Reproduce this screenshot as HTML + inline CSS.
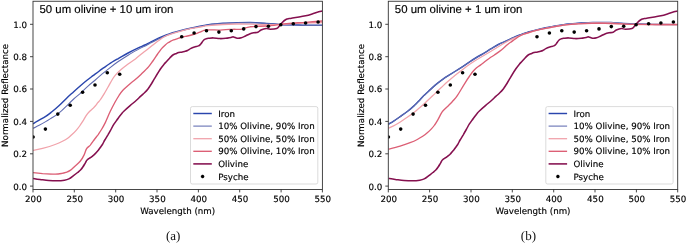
<!DOCTYPE html>
<html lang="en"><head><meta charset="utf-8"><title>Normalized reflectance: olivine and iron mixtures vs Psyche</title>
<style>
html,body{margin:0;padding:0;background:#fff}
svg{display:block}
text{text-rendering:geometricPrecision}
.dv{font-family:"DejaVu Sans","Liberation Sans",sans-serif}
.ls{font-family:"Liberation Sans",sans-serif}
.se{font-family:"Liberation Serif",serif}
</style></head><body>
<svg width="686" height="243" viewBox="0 0 686 243">
<rect width="686" height="243" fill="#fff"/>
<clipPath id="ca"><rect x="33.0" y="1.25" width="289.4" height="188.2"/></clipPath>
<g clip-path="url(#ca)" fill="none" stroke-linecap="butt" stroke-linejoin="round">
<path d="M33.1 123.8C34.0 123.2 36.6 121.6 38.7 120.4C40.8 119.2 43.5 117.8 45.7 116.4C47.9 115.0 49.6 113.6 51.9 111.8C54.1 110.0 56.8 107.7 59.2 105.5C61.6 103.3 64.0 100.7 66.4 98.4C68.8 96.1 71.3 93.9 73.7 91.7C76.1 89.5 78.7 87.2 81.0 85.2C83.3 83.2 85.3 81.6 87.3 80.0C89.3 78.4 91.0 77.2 93.0 75.7C95.0 74.2 97.2 72.6 99.0 71.2C100.8 69.8 102.3 68.8 104.0 67.6C105.7 66.4 106.9 65.5 109.2 64.0C111.5 62.5 114.8 60.6 117.9 58.8C121.1 57.0 124.7 54.8 128.1 53.0C131.5 51.2 135.5 49.2 138.3 47.9C141.1 46.6 142.8 46.0 144.9 45.0C147.0 44.0 148.8 42.9 151.0 41.8C153.2 40.7 155.6 39.5 158.0 38.4C160.4 37.3 163.2 36.2 165.6 35.3C168.0 34.4 170.2 33.6 172.6 32.8C175.0 32.0 177.2 31.4 180.2 30.6C183.2 29.8 187.1 28.9 190.4 28.2C193.7 27.5 197.0 26.9 200.0 26.3C203.0 25.7 205.8 25.2 208.3 24.8C210.8 24.4 212.6 24.2 215.0 24.0C217.4 23.8 219.2 23.5 222.9 23.3C226.7 23.1 233.0 22.7 237.5 22.6C242.0 22.5 247.0 22.5 250.0 22.5C253.0 22.5 253.0 22.5 255.7 22.6C258.4 22.8 262.2 23.1 266.2 23.4C270.1 23.7 275.0 24.1 279.4 24.4C283.8 24.6 288.1 24.8 292.5 24.9C296.9 25.0 300.6 25.2 305.6 25.3C310.6 25.4 319.6 25.3 322.4 25.3" stroke="#2a46ad" stroke-width="1.45"/>
<path d="M33.1 128.4C34.0 127.9 36.6 126.6 38.7 125.5C40.8 124.4 43.5 122.9 45.7 121.6C47.9 120.3 50.0 118.9 51.9 117.7C53.8 116.5 55.4 115.8 57.0 114.6C58.6 113.4 59.9 112.2 61.5 110.8C63.1 109.4 64.4 108.2 66.4 106.2C68.4 104.2 71.3 101.2 73.7 99.0C76.1 96.8 78.6 95.0 81.0 92.8C83.4 90.6 85.9 87.9 88.3 85.8C90.7 83.7 93.0 81.9 95.3 80.0C97.6 78.1 99.6 76.2 101.9 74.2C104.2 72.2 106.5 70.4 109.2 68.3C111.9 66.2 114.8 64.0 117.9 61.8C121.1 59.6 124.7 57.3 128.1 55.2C131.5 53.1 135.2 51.1 138.3 49.4C141.5 47.7 144.9 46.1 147.0 45.0C149.1 43.9 149.2 43.8 151.0 42.8C152.8 41.8 155.6 40.4 158.0 39.2C160.4 38.1 163.2 36.9 165.6 35.9C168.0 34.9 170.2 34.1 172.6 33.3C175.0 32.5 177.2 31.8 180.2 31.0C183.2 30.2 187.1 29.2 190.4 28.5C193.7 27.8 197.0 27.2 200.0 26.6C203.0 26.0 205.8 25.4 208.3 24.9C210.8 24.5 212.6 24.4 215.0 24.1C217.4 23.9 219.2 23.7 222.9 23.4C226.7 23.2 233.0 22.9 237.5 22.8C242.0 22.6 247.0 22.6 250.0 22.6C253.0 22.6 253.0 22.6 255.7 22.8C258.4 22.9 262.2 23.2 266.2 23.5C270.1 23.8 275.0 24.3 279.4 24.5C283.8 24.8 288.1 24.9 292.5 25.0C296.9 25.2 300.6 25.4 305.6 25.4C310.6 25.5 319.6 25.4 322.4 25.4" stroke="#5f6bb0" stroke-width="1.05"/>
<path d="M33.1 150.3C34.7 150.0 38.9 149.4 42.6 148.4C46.3 147.4 51.9 145.7 55.1 144.5C58.3 143.3 59.9 142.6 62.0 141.5C64.1 140.4 66.0 139.4 67.7 138.2C69.4 137.0 70.5 135.8 72.0 134.5C73.5 133.2 75.1 131.6 76.4 130.1C77.7 128.6 79.0 127.0 80.0 125.5C81.0 124.0 81.6 123.0 82.7 121.3C83.8 119.6 85.4 116.7 86.5 115.1C87.6 113.5 88.5 112.6 89.5 111.5C90.5 110.4 91.7 109.6 92.8 108.6C93.9 107.5 95.2 106.2 96.0 105.2C96.8 104.2 97.0 103.7 97.8 102.7C98.5 101.8 99.5 101.0 100.5 99.5C101.5 98.0 102.7 96.3 104.1 93.9C105.5 91.5 107.8 87.4 109.1 85.1C110.4 82.8 111.0 81.7 112.0 80.0C113.0 78.3 113.9 76.8 115.4 75.1C116.9 73.4 118.7 71.6 120.8 69.8C122.9 68.0 125.7 65.8 128.1 64.0C130.5 62.2 133.0 60.7 135.4 58.9C137.8 57.1 140.5 54.7 142.7 53.0C144.9 51.3 146.8 49.9 148.5 48.6C150.2 47.3 151.3 46.3 152.9 45.0C154.5 43.7 156.2 42.3 158.3 40.8C160.4 39.3 163.2 37.2 165.6 36.0C168.0 34.8 170.5 34.1 172.9 33.3C175.3 32.5 177.3 32.1 180.2 31.3C183.1 30.5 187.1 29.4 190.4 28.7C193.7 28.0 197.0 27.5 200.0 27.0C203.0 26.5 204.5 26.1 208.3 25.7C212.1 25.3 218.0 24.8 222.9 24.5C227.8 24.2 233.0 24.1 237.5 24.0C242.0 23.9 245.2 24.1 250.0 24.2C254.8 24.3 261.3 24.6 266.2 24.6C271.1 24.6 275.0 24.6 279.4 24.4C283.8 24.2 288.1 23.8 292.5 23.6C296.9 23.4 300.6 23.2 305.6 23.0C310.6 22.8 319.6 22.6 322.4 22.5" stroke="#f1a3ab" stroke-width="1.3"/>
<path d="M33.1 172.6C34.7 172.8 38.9 173.3 42.6 173.6C46.3 173.8 51.9 174.1 55.1 174.1C58.3 174.1 60.2 173.7 62.0 173.4C63.8 173.1 64.6 172.8 66.0 172.3C67.4 171.8 68.7 171.5 70.2 170.4C71.7 169.3 73.5 167.4 75.2 165.9C76.9 164.4 78.7 163.1 80.2 161.3C81.7 159.5 83.0 157.2 84.0 155.1C85.0 153.0 85.5 150.6 86.5 148.9C87.5 147.2 89.0 146.6 90.3 145.1C91.5 143.6 92.8 141.7 94.0 140.0C95.2 138.3 96.5 136.8 97.8 135.1C99.0 133.3 100.2 131.6 101.5 129.5C102.8 127.4 103.8 125.6 105.3 122.6C106.8 119.6 108.6 114.8 110.3 111.3C112.0 107.8 114.0 104.1 115.4 101.5C116.9 98.9 117.8 97.4 119.0 95.5C120.2 93.6 121.0 92.2 122.9 90.2C124.8 88.2 128.4 85.1 130.4 83.4C132.4 81.7 132.9 81.5 134.7 80.0C136.5 78.5 138.9 76.4 141.2 74.2C143.5 72.0 146.6 69.1 148.5 66.9C150.4 64.7 151.4 63.1 152.9 61.0C154.4 58.9 156.2 56.1 157.3 54.5C158.4 52.9 158.8 52.4 159.5 51.4C160.2 50.4 160.6 49.7 161.6 48.6C162.6 47.5 164.2 46.0 165.3 45.0C166.4 44.0 167.1 43.4 168.0 42.8C168.9 42.2 169.9 41.7 170.8 41.2C171.7 40.7 172.3 40.4 173.5 39.9C174.7 39.4 176.5 38.9 178.1 38.4C179.7 37.9 181.4 37.4 183.0 37.0C184.6 36.6 185.8 36.4 187.5 36.0C189.2 35.6 191.6 35.0 193.2 34.5C194.8 34.0 195.9 33.7 197.0 33.3C198.1 32.9 198.8 32.7 200.0 32.2C201.2 31.7 202.7 30.7 203.9 30.3C205.1 29.9 205.8 30.0 207.0 29.9C208.2 29.8 209.3 29.8 211.2 29.8C213.1 29.8 216.1 30.1 218.5 30.1C220.9 30.1 223.4 29.7 225.8 29.6C228.2 29.5 230.7 29.4 233.1 29.3C235.5 29.2 238.2 29.6 240.4 29.3C242.6 29.0 244.6 28.1 246.2 27.7C247.8 27.3 248.4 27.0 250.0 26.8C251.6 26.6 253.0 26.4 255.7 26.3C258.4 26.2 263.1 26.2 266.2 26.0C269.3 25.8 271.7 25.6 274.1 25.3C276.5 25.0 277.6 24.7 280.7 24.3C283.8 23.9 288.4 23.4 292.5 23.1C296.6 22.8 300.6 22.7 305.6 22.3C310.6 21.9 319.6 21.2 322.4 21.0" stroke="#dc5f75" stroke-width="1.35"/>
<path d="M33.1 178.4C34.2 178.6 37.4 179.2 40.0 179.5C42.6 179.8 45.8 180.3 48.7 180.5C51.6 180.7 54.9 180.9 57.5 180.8C60.1 180.8 62.6 180.5 64.5 180.2C66.4 179.9 67.5 179.6 68.9 178.9C70.4 178.2 71.8 177.0 73.2 175.9C74.7 174.8 76.4 173.5 77.6 172.5C78.8 171.5 79.6 170.9 80.5 170.0C81.4 169.1 82.2 168.0 83.0 166.8C83.8 165.6 84.7 163.9 85.4 162.8C86.1 161.7 86.2 160.9 87.1 160.0C88.0 159.1 89.6 158.2 90.6 157.5C91.5 156.8 92.1 156.4 92.8 155.8C93.5 155.2 94.0 154.9 95.0 153.9C96.0 152.9 97.6 151.1 98.5 150.0C99.4 148.9 99.8 148.2 100.5 147.2C101.2 146.2 102.1 145.0 102.8 143.8C103.5 142.6 104.0 141.4 104.8 140.0C105.6 138.6 106.8 136.8 107.8 135.1C108.8 133.3 110.0 131.4 111.0 129.5C112.0 127.6 112.9 125.7 114.1 123.9C115.3 122.1 116.8 120.2 118.0 118.5C119.2 116.8 120.6 115.0 121.6 113.8C122.6 112.5 122.6 112.4 124.1 111.0C125.6 109.6 128.3 107.2 130.4 105.4C132.5 103.6 135.0 101.5 136.7 100.0C138.4 98.5 139.2 97.6 140.5 96.4C141.8 95.2 143.2 94.0 144.5 92.8C145.8 91.5 146.9 90.3 148.0 88.9C149.1 87.5 149.9 86.2 151.0 84.5C152.1 82.8 152.7 81.5 154.3 78.9C155.9 76.3 159.0 71.2 160.6 68.8C162.2 66.4 163.0 65.5 164.0 64.3C165.0 63.0 165.8 62.4 166.8 61.3C167.8 60.2 169.0 58.8 170.0 57.7C171.0 56.7 172.0 55.6 172.9 55.0C173.8 54.4 174.6 54.2 175.6 53.8C176.6 53.4 177.7 52.9 178.7 52.6C179.7 52.3 180.5 52.4 181.5 52.2C182.5 52.0 183.5 51.8 184.5 51.5C185.5 51.2 186.5 51.0 187.5 50.5C188.5 50.0 189.5 49.1 190.5 48.6C191.5 48.1 192.8 47.5 193.7 47.2C194.6 46.9 195.2 46.8 196.0 46.6C196.8 46.4 197.8 46.2 198.5 45.9C199.2 45.6 199.6 45.3 200.0 44.9C200.4 44.5 200.6 44.3 201.2 43.5C201.8 42.7 203.0 40.8 203.8 40.0C204.7 39.2 205.6 39.0 206.3 38.7C207.1 38.4 207.1 38.4 208.3 38.3C209.5 38.2 211.6 37.8 213.5 37.9C215.4 38.0 217.6 38.5 219.7 38.6C221.8 38.7 223.9 38.5 225.8 38.3C227.7 38.1 229.7 37.6 231.0 37.4C232.3 37.2 232.6 36.8 233.6 36.9C234.6 37.0 235.9 38.1 237.2 38.2C238.5 38.4 239.9 38.2 241.3 37.8C242.7 37.4 244.1 36.6 245.5 36.0C246.9 35.4 248.2 34.4 249.6 33.9C251.0 33.4 252.3 33.1 253.7 32.8C255.1 32.5 256.6 32.8 257.8 32.3C259.0 31.8 259.6 30.6 261.0 30.0C262.4 29.4 264.7 28.7 266.2 28.6C267.7 28.5 268.4 29.2 270.2 29.2C271.9 29.2 275.2 29.0 276.7 28.5C278.2 28.0 278.5 27.0 279.4 26.0C280.3 25.0 280.9 23.8 282.0 22.7C283.1 21.6 284.7 20.2 285.9 19.5C287.1 18.8 287.9 18.8 289.0 18.6C290.1 18.4 290.8 18.4 292.5 18.1C294.2 17.9 296.9 17.5 299.1 17.1C301.3 16.7 303.4 16.3 305.6 15.8C307.8 15.3 310.0 14.6 312.2 13.9C314.4 13.2 317.0 12.3 318.7 11.8C320.4 11.3 321.8 11.1 322.4 10.9" stroke="#85104f" stroke-width="1.55"/>
</g>
<g fill="#000" clip-path="url(#ca)">
<circle cx="33.1" cy="137.0" r="1.8"/>
<circle cx="45.4" cy="129.1" r="1.8"/>
<circle cx="57.8" cy="114.1" r="1.8"/>
<circle cx="70.2" cy="105.2" r="1.8"/>
<circle cx="82.6" cy="92.2" r="1.8"/>
<circle cx="95.0" cy="85.0" r="1.8"/>
<circle cx="107.3" cy="72.8" r="1.8"/>
<circle cx="119.7" cy="74.3" r="1.8"/>
<circle cx="181.7" cy="36.7" r="1.8"/>
<circle cx="194.1" cy="33.0" r="1.8"/>
<circle cx="206.5" cy="30.8" r="1.8"/>
<circle cx="218.9" cy="32.1" r="1.8"/>
<circle cx="231.3" cy="30.8" r="1.8"/>
<circle cx="243.7" cy="28.9" r="1.8"/>
<circle cx="256.0" cy="26.6" r="1.8"/>
<circle cx="268.4" cy="26.3" r="1.8"/>
<circle cx="280.8" cy="24.7" r="1.8"/>
<circle cx="293.3" cy="23.8" r="1.8"/>
<circle cx="305.6" cy="23.0" r="1.8"/>
<circle cx="318.1" cy="22.0" r="1.8"/>
</g>
<rect x="33.0" y="1.25" width="289.4" height="188.2" fill="none" stroke="#333" stroke-width="0.9"/>
<g stroke="#333" stroke-width="0.9">
<line x1="33.0" y1="189.4" x2="33.0" y2="192.4"/>
<line x1="74.3" y1="189.4" x2="74.3" y2="192.4"/>
<line x1="115.7" y1="189.4" x2="115.7" y2="192.4"/>
<line x1="157.0" y1="189.4" x2="157.0" y2="192.4"/>
<line x1="198.4" y1="189.4" x2="198.4" y2="192.4"/>
<line x1="239.7" y1="189.4" x2="239.7" y2="192.4"/>
<line x1="281.1" y1="189.4" x2="281.1" y2="192.4"/>
<line x1="322.4" y1="189.4" x2="322.4" y2="192.4"/>
<line x1="30.0" y1="186.1" x2="33.0" y2="186.1"/>
<line x1="30.0" y1="153.8" x2="33.0" y2="153.8"/>
<line x1="30.0" y1="121.4" x2="33.0" y2="121.4"/>
<line x1="30.0" y1="89.0" x2="33.0" y2="89.0"/>
<line x1="30.0" y1="56.7" x2="33.0" y2="56.7"/>
<line x1="30.0" y1="24.3" x2="33.0" y2="24.3"/>
</g>
<g class="dv" font-size="8.7" fill="#000" stroke="#000" stroke-width="0.15">
<text x="33.4" y="202.2" text-anchor="middle">200</text>
<text x="74.7" y="202.2" text-anchor="middle">250</text>
<text x="116.1" y="202.2" text-anchor="middle">300</text>
<text x="157.4" y="202.2" text-anchor="middle">350</text>
<text x="198.8" y="202.2" text-anchor="middle">400</text>
<text x="240.1" y="202.2" text-anchor="middle">450</text>
<text x="281.5" y="202.2" text-anchor="middle">500</text>
<text x="322.8" y="202.2" text-anchor="middle">550</text>
<text x="27.0" y="189.5" text-anchor="end">0.0</text>
<text x="27.0" y="157.2" text-anchor="end">0.2</text>
<text x="27.0" y="124.8" text-anchor="end">0.4</text>
<text x="27.0" y="92.4" text-anchor="end">0.6</text>
<text x="27.0" y="60.1" text-anchor="end">0.8</text>
<text x="27.0" y="27.7" text-anchor="end">1.0</text>
<text x="177.7" y="214.1" text-anchor="middle">Wavelength (nm)</text>
<text transform="translate(8.3 95.4) rotate(-90)" text-anchor="middle">Normalized Reflectance</text>
</g>
<text class="ls" font-size="11.4" x="39.5" y="13.4" fill="#000" stroke="#000" stroke-width="0.15">50 um olivine + 10 um iron</text>
<text class="se" font-size="13" x="173.1" y="239.7" text-anchor="middle" fill="#111">(a)</text>
<rect x="190.5" y="106.6" width="127.3" height="77.4" rx="1.8" fill="#fff" fill-opacity="0.8" stroke="#d2d2d2" stroke-width="0.8"/>
<g class="dv" font-size="8.7" fill="#000" stroke="#000" stroke-width="0.15">
<line x1="193.3" y1="113.5" x2="211.8" y2="113.5" stroke="#2a46ad" stroke-width="1.45"/>
<text x="218.2" y="116.6">Iron</text>
<line x1="193.3" y1="126.1" x2="211.8" y2="126.1" stroke="#5f6bb0" stroke-width="1.05"/>
<text x="218.2" y="129.2">10% Olivine, 90% Iron</text>
<line x1="193.3" y1="138.7" x2="211.8" y2="138.7" stroke="#f1a3ab" stroke-width="1.3"/>
<text x="218.2" y="141.8">50% Olivine, 50% Iron</text>
<line x1="193.3" y1="151.3" x2="211.8" y2="151.3" stroke="#dc5f75" stroke-width="1.35"/>
<text x="218.2" y="154.4">90% Olivine, 10% Iron</text>
<line x1="193.3" y1="163.9" x2="211.8" y2="163.9" stroke="#85104f" stroke-width="1.55"/>
<text x="218.2" y="167.0">Olivine</text>
<circle cx="202.6" cy="176.5" r="1.65" fill="#000"/>
<text x="218.2" y="179.6">Psyche</text>
</g>
<clipPath id="cb"><rect x="388.3" y="1.25" width="289.4" height="188.2"/></clipPath>
<g clip-path="url(#cb)" fill="none" stroke-linecap="butt" stroke-linejoin="round">
<path d="M388.4 124.3C389.2 123.8 391.4 122.5 393.3 121.3C395.2 120.1 397.2 118.7 399.6 117.0C402.0 115.3 405.0 113.3 407.6 111.3C410.2 109.3 413.0 106.7 415.1 104.8C417.2 102.9 418.7 101.0 420.0 99.7C421.3 98.4 421.3 98.1 422.7 96.7C424.1 95.3 426.2 93.4 428.3 91.5C430.4 89.6 433.0 87.0 435.2 85.1C437.4 83.2 439.2 81.8 441.3 80.3C443.4 78.8 444.6 77.9 447.8 75.9C451.0 73.9 456.5 70.5 460.3 68.1C464.1 65.7 467.0 63.5 470.4 61.3C473.8 59.1 477.2 57.1 480.8 55.0C484.4 52.9 488.8 50.1 491.7 48.4C494.6 46.6 495.9 45.7 498.3 44.5C500.7 43.3 503.8 42.1 506.3 41.0C508.8 39.9 510.9 38.7 513.3 37.6C515.7 36.5 518.5 35.5 520.9 34.6C523.3 33.7 525.5 33.0 527.9 32.2C530.3 31.5 532.5 30.8 535.5 30.1C538.5 29.4 542.4 28.5 545.7 27.8C549.0 27.1 552.3 26.5 555.3 26.0C558.3 25.5 561.1 25.0 563.6 24.6C566.1 24.2 567.9 24.1 570.3 23.9C572.7 23.7 574.5 23.4 578.2 23.2C582.0 23.0 588.3 22.6 592.8 22.5C597.3 22.4 602.3 22.4 605.3 22.4C608.3 22.4 608.3 22.4 611.0 22.5C613.7 22.6 617.5 23.1 621.5 23.3C625.5 23.6 630.3 23.8 634.7 24.0C639.1 24.2 643.4 24.2 647.8 24.3C652.2 24.4 655.9 24.4 660.9 24.5C665.9 24.6 674.9 24.6 677.7 24.6" stroke="#2a46ad" stroke-width="1.45"/>
<path d="M388.4 124.4C389.2 123.9 391.4 122.6 393.3 121.4C395.2 120.2 397.2 118.8 399.6 117.1C402.0 115.4 405.0 113.4 407.6 111.4C410.2 109.4 413.0 106.8 415.1 104.9C417.2 103.0 418.7 101.1 420.0 99.8C421.3 98.5 421.3 98.2 422.7 96.8C424.1 95.4 426.2 93.5 428.3 91.6C430.4 89.7 433.0 87.1 435.2 85.2C437.4 83.3 439.2 81.9 441.3 80.4C443.4 78.9 444.6 78.0 447.8 76.0C451.0 74.0 456.5 70.6 460.3 68.2C464.1 65.8 467.0 63.6 470.4 61.4C473.8 59.2 477.2 57.2 480.8 55.1C484.4 53.0 488.8 50.2 491.7 48.5C494.6 46.8 495.9 45.8 498.3 44.6C500.7 43.4 503.8 42.2 506.3 41.1C508.8 40.0 510.9 38.8 513.3 37.7C515.7 36.6 518.5 35.6 520.9 34.7C523.3 33.8 525.5 33.1 527.9 32.3C530.3 31.6 532.5 30.9 535.5 30.2C538.5 29.5 542.4 28.6 545.7 27.9C549.0 27.2 552.3 26.6 555.3 26.1C558.3 25.6 561.1 25.1 563.6 24.7C566.1 24.4 567.9 24.2 570.3 24.0C572.7 23.8 574.5 23.5 578.2 23.3C582.0 23.1 588.3 22.7 592.8 22.6C597.3 22.5 602.3 22.5 605.3 22.5C608.3 22.5 608.3 22.5 611.0 22.6C613.7 22.8 617.5 23.2 621.5 23.4C625.5 23.7 630.3 23.9 634.7 24.1C639.1 24.3 643.4 24.3 647.8 24.4C652.2 24.5 655.9 24.6 660.9 24.6C665.9 24.7 674.9 24.7 677.7 24.7" stroke="#5f6bb0" stroke-width="1.05"/>
<path d="M388.4 128.4C389.5 127.8 393.2 126.1 395.2 125.0C397.2 123.9 398.4 123.2 400.3 122.0C402.2 120.8 404.6 119.1 406.9 117.5C409.2 115.9 412.1 113.8 414.2 112.2C416.3 110.6 417.5 109.5 419.3 108.0C421.1 106.5 423.0 104.9 424.8 103.2C426.6 101.5 428.6 99.6 430.3 98.0C432.0 96.4 433.1 95.3 434.9 93.6C436.7 91.8 439.1 89.5 441.3 87.5C443.5 85.5 444.6 84.1 447.8 81.4C451.0 78.7 456.5 74.2 460.3 71.3C464.1 68.4 467.0 66.1 470.4 63.8C473.8 61.5 476.6 59.8 480.4 57.5C484.2 55.2 488.7 52.6 493.0 50.0C497.3 47.4 501.7 44.5 506.3 42.0C510.9 39.5 516.0 37.2 520.9 35.3C525.8 33.4 531.4 31.9 535.5 30.7C539.6 29.5 542.4 29.0 545.7 28.3C549.0 27.6 552.3 27.0 555.3 26.5C558.3 26.0 561.1 25.5 563.6 25.1C566.1 24.8 567.9 24.6 570.3 24.4C572.7 24.2 574.5 23.9 578.2 23.7C582.0 23.5 588.3 23.1 592.8 23.0C597.3 22.9 602.3 22.9 605.3 22.9C608.3 22.9 608.3 22.9 611.0 23.0C613.7 23.1 617.5 23.6 621.5 23.8C625.5 24.1 630.3 24.3 634.7 24.5C639.1 24.7 643.4 24.7 647.8 24.8C652.2 24.9 655.9 24.9 660.9 25.0C665.9 25.1 674.9 25.1 677.7 25.1" stroke="#f1a3ab" stroke-width="1.3"/>
<path d="M388.4 149.2C390.4 148.7 396.5 147.2 400.1 146.1C403.7 145.0 407.2 143.8 410.1 142.7C413.0 141.6 415.2 140.6 417.3 139.5C419.4 138.4 421.0 137.3 422.7 136.2C424.4 135.1 425.9 133.9 427.3 132.7C428.8 131.5 430.2 130.2 431.4 128.9C432.6 127.6 433.6 126.5 434.6 125.0C435.7 123.5 436.6 122.0 437.7 120.1C438.8 118.2 440.2 115.2 441.1 113.6C442.0 112.0 442.2 111.7 443.3 110.5C444.4 109.3 446.6 107.3 447.8 106.2C449.0 105.1 449.3 104.9 450.3 103.8C451.3 102.7 452.8 101.2 454.0 99.8C455.2 98.4 456.2 97.2 457.3 95.6C458.4 94.0 459.5 92.2 460.8 90.0C462.1 87.8 463.9 84.8 465.3 82.6C466.7 80.3 468.0 78.3 469.3 76.5C470.6 74.7 471.7 72.9 472.9 71.5C474.1 70.1 475.1 69.1 476.3 68.0C477.6 66.9 478.9 66.2 480.4 65.1C481.9 64.0 483.6 62.6 485.3 61.3C487.0 60.0 488.9 58.5 490.4 57.5C491.9 56.5 492.5 56.3 494.4 55.0C496.3 53.7 499.6 51.5 501.7 49.8C503.9 48.1 505.4 46.4 507.3 44.8C509.2 43.2 511.1 41.9 513.3 40.4C515.5 38.9 518.2 36.8 520.6 35.5C523.0 34.2 525.5 33.6 527.9 32.8C530.3 32.0 532.3 31.3 535.2 30.6C538.1 29.9 542.1 29.0 545.4 28.4C548.7 27.8 552.0 27.2 555.0 26.7C558.0 26.2 559.7 25.7 563.6 25.2C567.5 24.7 573.3 24.1 578.2 23.8C583.1 23.5 588.3 23.4 592.8 23.3C597.3 23.2 600.5 23.2 605.3 23.3C610.1 23.4 616.6 23.7 621.5 23.9C626.4 24.1 630.3 24.3 634.7 24.4C639.1 24.5 643.4 24.4 647.8 24.4C652.2 24.4 655.9 24.4 660.9 24.4C665.9 24.4 674.9 24.4 677.7 24.4" stroke="#dc5f75" stroke-width="1.35"/>
<path d="M388.4 178.4C389.6 178.6 392.7 179.2 395.3 179.5C397.9 179.8 401.1 180.3 404.0 180.5C406.9 180.7 410.2 180.9 412.8 180.8C415.4 180.8 417.9 180.5 419.8 180.2C421.7 179.9 422.8 179.6 424.2 178.9C425.7 178.2 427.1 177.0 428.5 175.9C429.9 174.8 431.7 173.5 432.9 172.5C434.1 171.5 434.9 170.9 435.8 170.0C436.7 169.1 437.5 168.0 438.3 166.8C439.1 165.6 440.0 163.9 440.7 162.8C441.4 161.7 441.5 160.9 442.4 160.0C443.3 159.1 444.9 158.2 445.9 157.5C446.8 156.8 447.4 156.4 448.1 155.8C448.8 155.2 449.4 154.9 450.3 153.9C451.2 152.9 452.9 151.1 453.8 150.0C454.7 148.9 455.1 148.2 455.8 147.2C456.5 146.2 457.4 145.0 458.1 143.8C458.8 142.6 459.3 141.4 460.1 140.0C460.9 138.6 462.1 136.8 463.1 135.1C464.1 133.3 465.2 131.4 466.3 129.5C467.4 127.6 468.2 125.7 469.4 123.9C470.6 122.1 472.1 120.2 473.3 118.5C474.6 116.8 475.9 115.0 476.9 113.8C477.9 112.5 477.9 112.4 479.4 111.0C480.9 109.6 483.6 107.2 485.7 105.4C487.8 103.6 490.3 101.5 492.0 100.0C493.7 98.5 494.5 97.6 495.8 96.4C497.1 95.2 498.6 94.0 499.8 92.8C501.1 91.5 502.2 90.3 503.3 88.9C504.4 87.5 505.2 86.2 506.3 84.5C507.4 82.8 508.0 81.5 509.6 78.9C511.2 76.3 514.3 71.2 515.9 68.8C517.5 66.4 518.3 65.5 519.3 64.3C520.3 63.0 521.1 62.4 522.1 61.3C523.1 60.2 524.3 58.8 525.3 57.7C526.3 56.7 527.3 55.6 528.2 55.0C529.1 54.4 529.9 54.2 530.9 53.8C531.9 53.4 533.0 52.9 534.0 52.6C535.0 52.3 535.8 52.4 536.8 52.2C537.8 52.0 538.8 51.8 539.8 51.5C540.8 51.2 541.8 51.0 542.8 50.5C543.8 50.0 544.8 49.1 545.8 48.6C546.8 48.1 548.1 47.5 549.0 47.2C549.9 46.9 550.5 46.8 551.3 46.6C552.1 46.4 553.1 46.2 553.8 45.9C554.5 45.6 554.8 45.3 555.3 44.9C555.8 44.5 555.9 44.3 556.5 43.5C557.1 42.7 558.2 40.8 559.1 40.0C560.0 39.2 560.9 39.0 561.6 38.7C562.4 38.4 562.4 38.4 563.6 38.3C564.8 38.2 566.9 37.8 568.8 37.9C570.7 38.0 573.0 38.5 575.0 38.6C577.0 38.7 579.2 38.5 581.1 38.3C583.0 38.1 585.0 37.6 586.3 37.4C587.6 37.2 587.9 36.8 588.9 36.9C589.9 37.0 591.2 38.1 592.5 38.2C593.8 38.4 595.2 38.2 596.6 37.8C598.0 37.4 599.4 36.6 600.8 36.0C602.2 35.4 603.5 34.4 604.9 33.9C606.3 33.4 607.6 33.1 609.0 32.8C610.4 32.5 611.9 32.8 613.1 32.3C614.3 31.8 614.9 30.6 616.3 30.0C617.7 29.4 620.0 28.7 621.5 28.6C623.0 28.5 623.8 29.2 625.5 29.2C627.2 29.2 630.5 29.0 632.0 28.5C633.5 28.0 633.8 27.0 634.7 26.0C635.6 25.0 636.2 23.8 637.3 22.7C638.4 21.6 640.0 20.2 641.2 19.5C642.4 18.8 643.2 18.8 644.3 18.6C645.4 18.4 646.1 18.4 647.8 18.1C649.5 17.9 652.2 17.5 654.4 17.1C656.6 16.7 658.7 16.3 660.9 15.8C663.1 15.3 665.3 14.6 667.5 13.9C669.7 13.2 672.3 12.3 674.0 11.8C675.7 11.3 677.1 11.1 677.7 10.9" stroke="#85104f" stroke-width="1.55"/>
</g>
<g fill="#000" clip-path="url(#cb)">
<circle cx="388.4" cy="137.0" r="1.8"/>
<circle cx="400.7" cy="129.1" r="1.8"/>
<circle cx="413.1" cy="114.1" r="1.8"/>
<circle cx="425.5" cy="105.2" r="1.8"/>
<circle cx="437.9" cy="92.2" r="1.8"/>
<circle cx="450.3" cy="85.0" r="1.8"/>
<circle cx="462.6" cy="72.8" r="1.8"/>
<circle cx="475.0" cy="74.3" r="1.8"/>
<circle cx="537.0" cy="36.7" r="1.8"/>
<circle cx="549.4" cy="33.0" r="1.8"/>
<circle cx="561.8" cy="30.8" r="1.8"/>
<circle cx="574.2" cy="32.1" r="1.8"/>
<circle cx="586.6" cy="30.8" r="1.8"/>
<circle cx="599.0" cy="28.9" r="1.8"/>
<circle cx="611.3" cy="26.6" r="1.8"/>
<circle cx="623.7" cy="26.3" r="1.8"/>
<circle cx="636.1" cy="24.7" r="1.8"/>
<circle cx="648.6" cy="23.8" r="1.8"/>
<circle cx="660.9" cy="23.0" r="1.8"/>
<circle cx="673.4" cy="22.0" r="1.8"/>
</g>
<rect x="388.3" y="1.25" width="289.4" height="188.2" fill="none" stroke="#333" stroke-width="0.9"/>
<g stroke="#333" stroke-width="0.9">
<line x1="388.3" y1="189.4" x2="388.3" y2="192.4"/>
<line x1="429.6" y1="189.4" x2="429.6" y2="192.4"/>
<line x1="471.0" y1="189.4" x2="471.0" y2="192.4"/>
<line x1="512.3" y1="189.4" x2="512.3" y2="192.4"/>
<line x1="553.7" y1="189.4" x2="553.7" y2="192.4"/>
<line x1="595.0" y1="189.4" x2="595.0" y2="192.4"/>
<line x1="636.4" y1="189.4" x2="636.4" y2="192.4"/>
<line x1="677.7" y1="189.4" x2="677.7" y2="192.4"/>
<line x1="385.3" y1="186.1" x2="388.3" y2="186.1"/>
<line x1="385.3" y1="153.8" x2="388.3" y2="153.8"/>
<line x1="385.3" y1="121.4" x2="388.3" y2="121.4"/>
<line x1="385.3" y1="89.0" x2="388.3" y2="89.0"/>
<line x1="385.3" y1="56.7" x2="388.3" y2="56.7"/>
<line x1="385.3" y1="24.3" x2="388.3" y2="24.3"/>
</g>
<g class="dv" font-size="8.7" fill="#000" stroke="#000" stroke-width="0.15">
<text x="388.7" y="202.2" text-anchor="middle">200</text>
<text x="430.0" y="202.2" text-anchor="middle">250</text>
<text x="471.4" y="202.2" text-anchor="middle">300</text>
<text x="512.7" y="202.2" text-anchor="middle">350</text>
<text x="554.1" y="202.2" text-anchor="middle">400</text>
<text x="595.4" y="202.2" text-anchor="middle">450</text>
<text x="636.8" y="202.2" text-anchor="middle">500</text>
<text x="678.1" y="202.2" text-anchor="middle">550</text>
<text x="382.3" y="189.5" text-anchor="end">0.0</text>
<text x="382.3" y="157.2" text-anchor="end">0.2</text>
<text x="382.3" y="124.8" text-anchor="end">0.4</text>
<text x="382.3" y="92.4" text-anchor="end">0.6</text>
<text x="382.3" y="60.1" text-anchor="end">0.8</text>
<text x="382.3" y="27.7" text-anchor="end">1.0</text>
<text x="533.0" y="214.1" text-anchor="middle">Wavelength (nm)</text>
<text transform="translate(363.6 95.4) rotate(-90)" text-anchor="middle">Normalized Reflectance</text>
</g>
<text class="ls" font-size="11.4" x="394.8" y="13.4" fill="#000" stroke="#000" stroke-width="0.15">50 um olivine + 1 um iron</text>
<text class="se" font-size="13" x="528.4" y="239.7" text-anchor="middle" fill="#111">(b)</text>
<rect x="545.8" y="106.6" width="127.3" height="77.4" rx="1.8" fill="#fff" fill-opacity="0.8" stroke="#d2d2d2" stroke-width="0.8"/>
<g class="dv" font-size="8.7" fill="#000" stroke="#000" stroke-width="0.15">
<line x1="548.6" y1="113.5" x2="567.1" y2="113.5" stroke="#2a46ad" stroke-width="1.45"/>
<text x="573.5" y="116.6">Iron</text>
<line x1="548.6" y1="126.1" x2="567.1" y2="126.1" stroke="#5f6bb0" stroke-width="1.05"/>
<text x="573.5" y="129.2">10% Olivine, 90% Iron</text>
<line x1="548.6" y1="138.7" x2="567.1" y2="138.7" stroke="#f1a3ab" stroke-width="1.3"/>
<text x="573.5" y="141.8">50% Olivine, 50% Iron</text>
<line x1="548.6" y1="151.3" x2="567.1" y2="151.3" stroke="#dc5f75" stroke-width="1.35"/>
<text x="573.5" y="154.4">90% Olivine, 10% Iron</text>
<line x1="548.6" y1="163.9" x2="567.1" y2="163.9" stroke="#85104f" stroke-width="1.55"/>
<text x="573.5" y="167.0">Olivine</text>
<circle cx="557.9" cy="176.5" r="1.65" fill="#000"/>
<text x="573.5" y="179.6">Psyche</text>
</g>
</svg>
</body></html>
